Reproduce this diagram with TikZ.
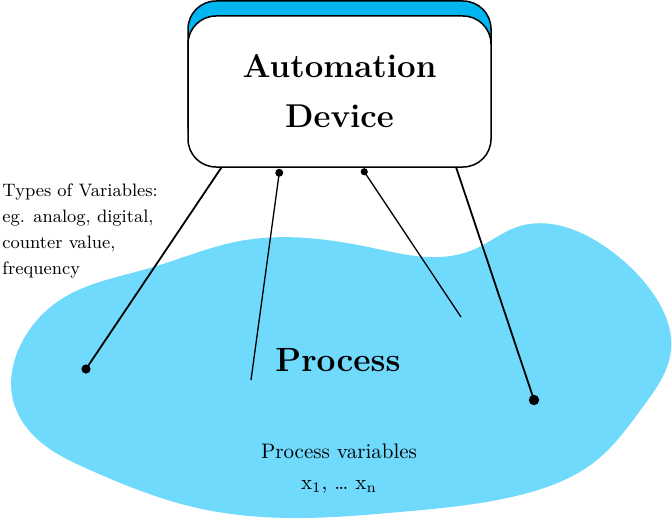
\documentclass[tikz,border=0pt]{standalone}
\usepackage{xcolor}
\usetikzlibrary{calc, hobby}

\definecolor{process blue}{RGB}{112,218,253}
\definecolor{device blue}{RGB}{0,181,240}

\begin{document}
\begin{tikzpicture}[x = 0.5pt, y = -0.5pt]
		\useasboundingbox (0,0) rectangle (672,518);
		
		\def\dot{2.3pt};
		\def\thick{0.9pt};
		\def\thin{0.65pt};
		
		%process
		\fill [process blue] plot [closed hobby] coordinates {(13,400) (22,342) (60,300) (150,268) (240,241) (373,248) (440,257) (475,249) (517,227) (607,248) (652,292) (671,350) (642,408) (597,460) (520,495) (400,512) (300,518) (193,507) (90,470) (35,437)};
		
		%device
		\draw [fill = device blue, rounded corners = 14pt, line width = 0.75pt] (188,1) rectangle (491,152);
		\node (device) [draw, fill = white, rounded corners = 14pt, line width = 0.75pt, minimum width = 151.5pt, minimum height = 75.5pt, align = center, font = \fontsize{16.5}{25}\selectfont\bfseries] at (339.5,91.5) {Automation\\Device};
		
		%texts
		\node (process) [font = \fontsize{16.8}{20}\selectfont\bfseries] at (338,360) {Process};
		\node (variables) [font = \fontsize{10.5}{13}\selectfont] at (339,451) {Process variables};
		\node (indices) [font = \fontsize{10.5}{13}\selectfont] at (339,487) {x\textsubscript{1}, \dots{} x\textsubscript{n}};
		\node (types) [anchor = north west, inner sep = 0, align = left, font = \fontsize{9}{13}\selectfont] at (2,183) {Types of Variables:\\eg. analog, digital,\\counter value,\\frequency};
		
		%connectors
		\coordinate (first start) at ($ (device.south west) + (34,0) $);
		\coordinate (second start) at ($ (device.south west) + (92,5) $);
		\coordinate (third start) at ($ (device.south west) + (177,4) $);
		\coordinate (fourth start) at ($ (device.south west) + (269,0) $);
		
		\coordinate (first end) at (86,369);
		\coordinate (second end) at (251,380);
		\coordinate (third end) at (461,317);
		\coordinate (fourth end) at (534,400);
		
		\draw [line width = \thick] (first start) -- (first end);
		\draw [line width = \thin] (second start) -- (second end);
		\draw [line width = \thin] (third start) -- (third end);
		\draw [line width = \thick] (fourth start) -- (fourth end);
		
		\fill (first end) circle [radius = \dot];
		\fill (second start) circle [radius = 2pt];
		\fill (third start) circle [radius = 1.8pt];
		\fill (fourth end) circle [radius = 2.6pt];
	\end{tikzpicture}
\end{document}
